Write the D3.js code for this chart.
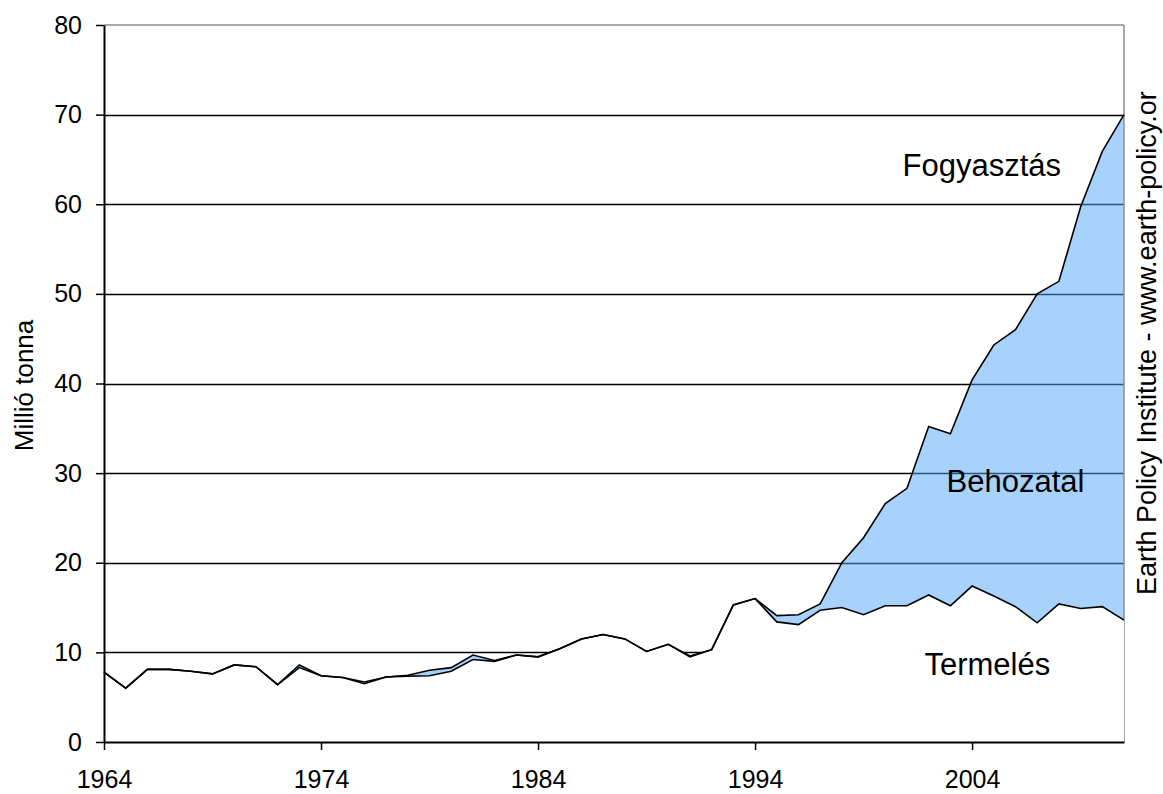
<!DOCTYPE html>
<html>
<head>
<meta charset="utf-8">
<script src="https://cdn.jsdelivr.net/npm/d3@7"></script>
<style>
  body { margin: 0; background: #fff; }
  svg text { font-family: Arial, "Liberation Sans", sans-serif; fill: #000; }
</style>
</head>
<body>
<svg id="chart" width="1163" height="794"></svg>
<script>
// evek
var years = d3.range(1964, 2012);

// Termelés (millió tonna)
var termeles = [7.8, 6.0, 8.1, 8.1, 7.9, 7.6, 8.6, 8.4, 6.4, 8.3,
                7.4, 7.2, 6.5, 7.25, 7.35, 7.4, 7.9, 9.2, 9.0, 9.7,
                9.5, 10.4, 11.5, 12.0, 11.5, 10.1, 10.9, 9.5, 10.3, 15.3,
                16.0, 13.4, 13.1, 14.7, 15.0, 14.2, 15.2, 15.2, 16.4, 15.2,
                17.4, 16.3, 15.1, 13.3, 15.4, 14.9, 15.1, 13.6];

// Fogyasztás (millió tonna)
var fogyasztas = [7.8, 6.0, 8.1, 8.1, 7.9, 7.6, 8.6, 8.4, 6.4, 8.6,
                  7.4, 7.2, 6.7, 7.25, 7.45, 8.0, 8.3, 9.7, 9.1, 9.7,
                  9.5, 10.4, 11.5, 12.0, 11.5, 10.1, 10.9, 9.6, 10.3, 15.3,
                  16.0, 14.1, 14.2, 15.4, 20.0, 22.8, 26.6, 28.3, 35.2, 34.4,
                  40.4, 44.3, 46.0, 50.0, 51.4, 59.7, 65.9, 70.0];

var xTicks = [1964, 1974, 1984, 1994, 2004];
var yTicks = [0, 10, 20, 30, 40, 50, 60, 70, 80];
var gridVals = [10, 20, 30, 40, 50, 60, 70];

var labels = [
  {text: "Fogyasztás", year: 2004.45, value: 63.2},
  {text: "Behozatal", year: 2006.0, value: 27.9},
  {text: "Termelés", year: 2004.7, value: 7.5}
];

var margin = {top: 25, right: 39, bottom: 52, left: 104};
var svg = d3.select("#chart"),
    width = 1163 - margin.left - margin.right,
    height = 794 - margin.top - margin.bottom;

var g = svg.append("g")
           .attr("transform", "translate(" + margin.left + "," + margin.top + ")");

var data = years.map(function(y, i) {
  return {year: y, prod: termeles[i], cons: fogyasztas[i]};
});

var x = d3.scaleLinear().domain([1964, 2011]).range([0, width]);
var y = d3.scaleLinear().domain([0, 80]).range([height, 0]);

// racsvonalak
g.selectAll(".grid").data(gridVals)
  .enter().append("line")
  .attr("class", "grid")
  .attr("x1", 0).attr("x2", width)
  .attr("y1", function(d) { return Math.round(y(d)) + 0.5; })
  .attr("y2", function(d) { return Math.round(y(d)) + 0.5; })
  .attr("stroke", "#000")
  .attr("stroke-width", 1.3);

// keret (felso, jobb)
g.append("line")
  .attr("x1", 0).attr("x2", width).attr("y1", y(80)).attr("y2", y(80))
  .attr("stroke", "#8c8c8c").attr("stroke-width", 1.5);
g.append("line")
  .attr("x1", width).attr("x2", width).attr("y1", y(80)).attr("y2", height)
  .attr("stroke", "#8c8c8c").attr("stroke-width", 1.5);

// fogyasztas terulet (kek)
var areaCons = d3.area()
  .x(function(d) { return x(d.year); })
  .y0(height)
  .y1(function(d) { return y(d.cons); });

g.append("path")
  .datum(data)
  .attr("fill", "#4da5f9")
  .attr("fill-opacity", 0.5)
  .attr("d", areaCons);

// termeles terulet (feher)
var areaProd = d3.area()
  .x(function(d) { return x(d.year); })
  .y0(height)
  .y1(function(d) { return y(d.prod); });

g.append("path")
  .datum(data)
  .attr("fill", "#fff")
  .attr("d", areaProd);

// vonalak
var lineCons = d3.line()
  .x(function(d) { return x(d.year); })
  .y(function(d) { return y(d.cons); });
var lineProd = d3.line()
  .x(function(d) { return x(d.year); })
  .y(function(d) { return y(d.prod); });

g.append("path").datum(data)
  .attr("fill", "none").attr("stroke", "#000")
  .attr("stroke-width", 1.6).attr("stroke-linejoin", "miter")
  .attr("d", lineCons);
g.append("path").datum(data)
  .attr("fill", "none").attr("stroke", "#000")
  .attr("stroke-width", 1.6).attr("stroke-linejoin", "miter")
  .attr("d", lineProd);

// tengelyek
var yAxis = g.append("g")
  .call(d3.axisLeft(y).tickValues(yTicks).tickSize(8).tickPadding(14).tickSizeOuter(0));
var xAxis = g.append("g")
  .attr("transform", "translate(0," + height + ")")
  .call(d3.axisBottom(x).tickValues(xTicks).tickFormat(d3.format("d"))
        .tickSize(8).tickPadding(20).tickSizeOuter(0));

[yAxis, xAxis].forEach(function(ax) {
  ax.select(".domain").attr("stroke", "#000").attr("stroke-width", 2);
  ax.selectAll(".tick line").attr("stroke", "#000").attr("stroke-width", 1.5);
  ax.selectAll(".tick text")
    .style("font-family", "Arial, 'Liberation Sans', sans-serif")
    .style("font-size", "25px")
    .attr("fill", "#000");
});

// cimkek
g.selectAll(".lbl").data(labels)
  .enter().append("text")
  .attr("class", "lbl")
  .attr("x", function(d) { return x(d.year); })
  .attr("y", function(d) { return y(d.value); })
  .attr("text-anchor", "middle")
  .style("font-size", "31px")
  .text(function(d) { return d.text; });

// y tengely felirat
svg.append("text")
  .attr("transform", "translate(33," + (margin.top + height / 2 + 2) + ") rotate(-90)")
  .attr("text-anchor", "middle")
  .style("font-size", "26px")
  .text("Millió tonna");

// forras
svg.append("text")
  .attr("transform", "translate(1156,595) rotate(-90)")
  .attr("text-anchor", "start")
  .style("font-size", "27px")
  .text("Earth Policy Institute - www.earth-policy.or");
</script>
</body>
</html>
